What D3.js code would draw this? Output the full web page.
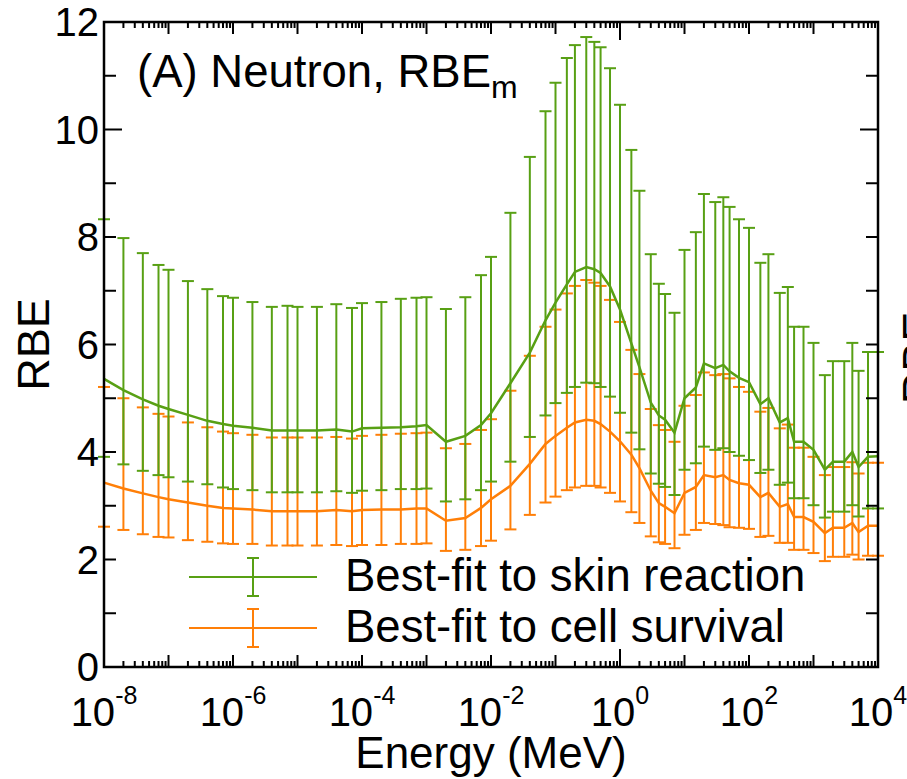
<!doctype html>
<meta charset="utf-8">
<style>
body { margin: 0; background: #fff; }
text { font-family: Arial, "Liberation Sans", sans-serif; fill: #000; }
</style>
<script src="https://d3js.org/d3.v7.min.js"></script>
<body>
<svg id="chart"></svg>
<script>
// neutron energy (MeV)
var energy = [1e-8,2e-8,4e-8,7e-8, 1e-7,2e-7,4e-7,7e-7, 1e-6,2e-6,4e-6,7e-6,
  1e-5,2e-5,4e-5,7e-5, 1e-4,2e-4,4e-4,7e-4, 1e-3,2e-3,4e-3,7e-3,
  1e-2,2e-2,4e-2,7e-2, 0.1,0.15,0.2,0.3,0.4,0.5,0.7,
  1,1.5,2,3,4,5,7, 10,15,20,30,40,50,70, 100,150,200,300,400,500,700,
  1000,1500,2000,3000,4000,5000,7000, 10000];

// best-fit to skin reaction
var skinMean = [5.36,5.15,4.98,4.86, 4.80,4.69,4.58,4.52, 4.49,4.45,4.40,4.40,
  4.40,4.40,4.42,4.38, 4.44,4.45,4.46,4.48, 4.50,4.19,4.30,4.50,
  4.72,5.28,5.85,6.45, 6.78,7.12,7.35,7.44,7.40,7.33,7.08,
  6.65,6.02,5.58,4.92,4.68,4.60,4.36, 5.00,5.20,5.65,5.56,5.62,5.50,5.38,
  5.30,4.89,5.00,4.55,4.63,4.19,4.19, 4.04,3.67,3.82,3.82,4.00,3.72,3.91, 3.92];
var skinLow = [3.91,3.77,3.65,3.57, 3.53,3.45,3.40,3.34, 3.31,3.29,3.25,3.25,
  3.25,3.25,3.27,3.24, 3.28,3.29,3.31,3.31, 3.32,3.08,3.12,3.29,
  3.45,3.82,4.28,4.68, 4.91,5.10,5.21,5.29,5.28,5.21,5.03,
  4.73,4.36,4.05,3.60,3.41,3.35,3.20, 3.67,3.79,4.10,4.04,4.07,4.00,3.93,
  3.85,3.61,3.67,3.39,3.43,3.14,3.14, 3.01,2.78,2.89,2.89,3.01,2.80,2.95, 2.95];
var skinHigh = [8.33,7.98,7.70,7.48, 7.39,7.18,7.03,6.90, 6.87,6.79,6.70,6.72,
  6.70,6.70,6.75,6.68, 6.77,6.79,6.85,6.87, 6.88,6.66,6.88,7.29,
  7.63,8.45,9.49,10.34, 10.87,11.33,11.57,11.72,11.63,11.53,11.14,
  10.46,9.62,8.86,7.68,7.13,6.94,6.59, 7.76,8.09,8.80,8.65,8.74,8.56,8.33,
  8.17,7.52,7.68,6.96,7.07,6.33,6.33, 6.03,5.43,5.69,5.69,6.03,5.51,5.86, 5.86];

// best-fit to cell survival
var cellMean = [3.43,3.32,3.23,3.16, 3.12,3.06,3.00,2.96, 2.95,2.93,2.90,2.90,
  2.90,2.90,2.92,2.90, 2.92,2.93,2.93,2.95, 2.95,2.72,2.77,2.96,
  3.12,3.37,3.78,4.15, 4.30,4.45,4.55,4.60,4.58,4.52,4.38,
  4.20,3.95,3.70,3.28,3.05,2.98,2.86, 3.24,3.35,3.57,3.53,3.57,3.48,3.42,
  3.39,3.16,3.24,2.98,3.03,2.79,2.79, 2.70,2.49,2.59,2.59,2.68,2.51,2.63, 2.63];
var cellLow = [2.61,2.55,2.47,2.42, 2.41,2.36,2.33,2.30, 2.29,2.29,2.26,2.26,
  2.26,2.26,2.27,2.25, 2.27,2.27,2.29,2.29, 2.30,2.16,2.18,2.25,
  2.35,2.56,2.83,3.06, 3.17,3.29,3.34,3.37,3.37,3.34,3.24,
  3.08,2.88,2.68,2.43,2.32,2.29,2.21, 2.46,2.55,2.68,2.66,2.64,2.60,2.59,
  2.57,2.42,2.44,2.31,2.31,2.18,2.18, 2.12,1.97,2.05,2.05,2.09,2.00,2.07, 2.07];
var cellHigh = [5.21,5.00,4.83,4.71, 4.66,4.55,4.46,4.38, 4.35,4.32,4.27,4.27,
  4.27,4.27,4.28,4.25, 4.30,4.32,4.34,4.35, 4.36,4.07,4.15,4.41,
  4.61,5.14,5.79,6.33, 6.65,6.95,7.09,7.20,7.15,7.09,6.83,
  6.42,5.90,5.45,4.80,4.50,4.41,4.19, 4.86,5.06,5.48,5.43,5.45,5.37,5.21,
  5.12,4.75,4.82,4.44,4.51,4.08,4.08, 3.91,3.57,3.72,3.72,3.81,3.60,3.80, 3.80];

var xLabelExps = [-8,-6,-4,-2,0,2,4];
var yLabels = [0,2,4,6,8,10,12];
var legendNames = ["Best-fit to skin reaction", "Best-fit to cell survival"];

var width = 907, height = 779;
var plotLeft = 104, plotRight = 878, plotTop = 22, plotBottom = 667;
var green = "#58a014", orange = "#ff7f08";

var svg = d3.select("#chart").attr("width", width).attr("height", height);

var x = d3.scaleLog().domain([1e-8, 1e4]).range([plotLeft, plotRight]);
var y = d3.scaleLinear().domain([0, 12]).range([plotBottom, plotTop]);

function makeSeries(mean, lo, hi) {
  return energy.map(function(e, i) { return {e: e, m: mean[i], lo: lo[i], hi: hi[i]}; });
}
var series = [
  {name: legendNames[1], color: orange, data: makeSeries(cellMean, cellLow, cellHigh)},
  {name: legendNames[0], color: green, data: makeSeries(skinMean, skinLow, skinHigh)}
];

var capW = 6;
var line = d3.line().x(function(d){ return x(d.e); }).y(function(d){ return y(d.m); });

// orange first, green drawn over it
series.forEach(function(s) {
  var g = svg.append("g").attr("stroke", s.color).attr("fill", "none");
  var bars = g.selectAll(".bar").data(s.data).enter().append("g").attr("class", "bar");
  bars.append("line")
    .attr("x1", function(d){ return x(d.e); }).attr("x2", function(d){ return x(d.e); })
    .attr("y1", function(d){ return y(d.lo); }).attr("y2", function(d){ return y(d.hi); })
    .attr("stroke-width", 2);
  bars.append("line")
    .attr("x1", function(d){ return x(d.e) - capW; }).attr("x2", function(d){ return x(d.e) + capW; })
    .attr("y1", function(d){ return y(d.hi); }).attr("y2", function(d){ return y(d.hi); })
    .attr("stroke-width", 2);
  bars.append("line")
    .attr("x1", function(d){ return x(d.e) - capW; }).attr("x2", function(d){ return x(d.e) + capW; })
    .attr("y1", function(d){ return y(d.lo); }).attr("y2", function(d){ return y(d.lo); })
    .attr("stroke-width", 2);
  g.append("path").datum(s.data).attr("d", line).attr("stroke-width", 2.5);
});

// frame
svg.append("rect").attr("x", plotLeft).attr("y", plotTop)
  .attr("width", plotRight - plotLeft).attr("height", plotBottom - plotTop)
  .attr("fill", "none").attr("stroke", "#000").attr("stroke-width", 2.5);

// x ticks on bottom and top, pointing inward
var xTicks = [];
for (var p = -8; p <= 4; p++) {
  for (var k = 1; k <= 9; k++) {
    if (p === 4 && k > 1) break;
    xTicks.push({v: k * Math.pow(10, p), len: k > 1 ? 6 : (p === 0 ? 18 : 12)});
  }
}
var axes = svg.append("g").attr("stroke", "#000").attr("stroke-width", 2);
xTicks.forEach(function(t) {
  var xp = x(t.v);
  axes.append("line").attr("x1", xp).attr("x2", xp).attr("y1", plotBottom).attr("y2", plotBottom - t.len);
  axes.append("line").attr("x1", xp).attr("x2", xp).attr("y1", plotTop).attr("y2", plotTop + t.len);
});
d3.range(0, 13).forEach(function(v) {
  var len = (v === 0 || v === 10) ? 18 : 12;
  axes.append("line").attr("x1", plotLeft).attr("x2", plotLeft + len).attr("y1", y(v)).attr("y2", y(v));
  axes.append("line").attr("x1", plotRight).attr("x2", plotRight - len).attr("y1", y(v)).attr("y2", y(v));
});

// tick labels
svg.selectAll(".ylab").data(yLabels).enter().append("text")
  .attr("class", "ylab")
  .attr("x", plotLeft - 5).attr("y", function(d){ return y(d) + 14; })
  .attr("text-anchor", "end").style("font-size", "40px")
  .text(function(d){ return d; });

var xl = svg.selectAll(".xlab").data(xLabelExps).enter().append("text")
  .attr("class", "xlab")
  .attr("x", function(d){ return x(Math.pow(10, d)); }).attr("y", 726)
  .attr("text-anchor", "middle").style("font-size", "40px");
xl.append("tspan").text("10");
xl.append("tspan").attr("dy", -22).style("font-size", "25px").text(function(d){ return d; });

// axis titles
svg.append("text").attr("x", (plotLeft + plotRight) / 2).attr("y", 768)
  .attr("text-anchor", "middle").style("font-size", "44px").text("Energy (MeV)");
svg.append("text").attr("transform", "translate(49," + ((plotTop + plotBottom) / 2) + ") rotate(-90)")
  .attr("text-anchor", "middle").style("font-size", "45px").text("RBE");
// y title of the next panel, cut by the page edge
svg.append("text").attr("transform", "translate(934,358) rotate(-90)")
  .attr("text-anchor", "middle").style("font-size", "45px").text("RBE");

// panel title
var title = svg.append("text").attr("x", 137).attr("y", 87).style("font-size", "45.5px");
title.append("tspan").text("(A) Neutron, RBE");
title.append("tspan").attr("dy", 11).style("font-size", "32px").text("m");

// legend
var legendRows = [{name: legendNames[0], color: green, y: 577}, {name: legendNames[1], color: orange, y: 628}];
legendRows.forEach(function(r) {
  var g = svg.append("g").attr("stroke", r.color).attr("stroke-width", 2);
  g.append("line").attr("x1", 189).attr("x2", 317).attr("y1", r.y).attr("y2", r.y);
  g.append("line").attr("x1", 253).attr("x2", 253).attr("y1", r.y - 19).attr("y2", r.y + 19);
  g.append("line").attr("x1", 253 - capW).attr("x2", 253 + capW).attr("y1", r.y - 19).attr("y2", r.y - 19);
  g.append("line").attr("x1", 253 - capW).attr("x2", 253 + capW).attr("y1", r.y + 19).attr("y2", r.y + 19);
  svg.append("text").attr("x", 345).attr("y", r.y + 14).style("font-size", "45.5px").text(r.name);
});
</script>
</body>
